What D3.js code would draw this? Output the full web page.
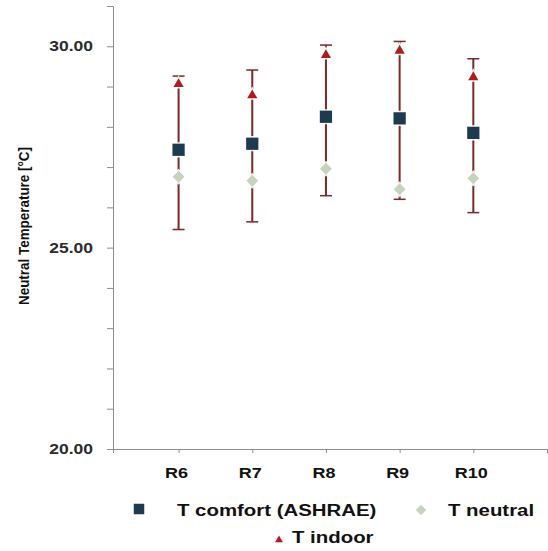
<!DOCTYPE html>
<html><head><meta charset="utf-8">
<script src="https://cdn.jsdelivr.net/npm/d3@7"></script>
<style>html,body{margin:0;padding:0;background:#fff;}svg{display:block;}</style>
</head><body>
<svg id="c" width="548" height="551"></svg>
<script>
const categories = ["R6","R7","R8","R9","R10"];
const tComfort = [27.43, 27.58, 28.25, 28.21, 27.85];
const tNeutral = [26.76, 26.66, 26.96, 26.45, 26.72];
const tIndoor  = [29.06, 28.78, 29.78, 29.89, 29.23];
const errHigh  = [29.26, 29.41, 30.03, 30.12, 29.69];
const errLow   = [25.45, 25.64, 26.29, 26.20, 25.87];
const yTickLabels = [20, 25, 30];
const legendNames = ["T comfort (ASHRAE)", "T neutral", "T indoor"];

const svg = d3.select("#c");
const x = d3.scaleLinear().domain([0.11, 6]).range([113, 547]);
const y = d3.scaleLinear().domain([20, 31]).range([449, 6]);
const axisColor = "#8c8c8c";
const pos = i => x(i + 1);

// Y axis
const yAxis = svg.append("g").attr("transform", "translate(113,0)")
  .call(d3.axisLeft(y).tickValues(d3.range(20, 32, 1)).tickSize(6).tickFormat(""));
yAxis.selectAll("path,line").attr("stroke", axisColor).attr("stroke-width", 1);
// X axis
const xAxis = svg.append("g").attr("transform", "translate(0,449)")
  .call(d3.axisBottom(x).tickValues([0.11, 1, 2, 3, 4, 5, 6]).tickSize(4).tickSizeOuter(0).tickFormat(""));
xAxis.selectAll("path,line").attr("stroke", axisColor).attr("stroke-width", 1);

// Y tick labels
svg.selectAll(".ylab").data(yTickLabels).enter().append("text")
  .attr("transform", d => `translate(93,${y(d) + 5}) scale(1.25,1)`)
  .attr("text-anchor", "end")
  .attr("font-family", "Liberation Sans, Arial, sans-serif").attr("font-weight", "bold")
  .attr("font-size", 14).attr("fill", "#2b2b2b")
  .text(d => d3.format(".2f")(d));

// X category labels
svg.selectAll(".xlab").data(categories).enter().append("text")
  .attr("transform", (d, i) => `translate(${pos(i) - 2},478) scale(1.2,1)`)
  .attr("text-anchor", "middle")
  .attr("font-family", "Liberation Sans, Arial, sans-serif").attr("font-weight", "bold")
  .attr("font-size", 15).attr("fill", "#111")
  .text(d => d);

// Y axis title
svg.append("text")
  .attr("transform", "translate(29,226) rotate(-90)")
  .attr("text-anchor", "middle")
  .attr("font-family", "Liberation Sans Narrow, Arial Narrow, Liberation Sans, sans-serif")
  .attr("font-weight", "bold").attr("font-size", 14).attr("fill", "#111")
  .attr("textLength", 158).attr("lengthAdjust", "spacingAndGlyphs")
  .text("Neutral Temperature [°C]");

// Error bars
const errColor = "#7a2828";
const eb = svg.append("g");
categories.forEach((c, i) => {
  const cx = pos(i);
  eb.append("line").attr("x1", cx).attr("x2", cx).attr("y1", y(errLow[i])).attr("y2", y(errHigh[i]))
    .attr("stroke", errColor).attr("stroke-width", 2);
  [errLow[i], errHigh[i]].forEach(v => {
    eb.append("line").attr("x1", cx - 6).attr("x2", cx + 6).attr("y1", y(v)).attr("y2", y(v))
      .attr("stroke", errColor).attr("stroke-width", 1.5);
  });
});

const sqColor = "#1d3a4e", diaColor = "#c8d3bb", triColor = "#b01c1e";
const squareSym = d3.symbol().type(d3.symbolSquare).size(150);
const diamondSym = d3.symbol().type(d3.symbolDiamond2).size(90);
const triSym = d3.symbol().type(d3.symbolTriangle2).size(75);

function markers(data, sym, color) {
  svg.append("g").selectAll("path").data(data).enter().append("path")
    .attr("d", sym)
    .attr("transform", (d, i) => `translate(${pos(i)},${y(d)})`)
    .attr("fill", color).attr("stroke", "#fff").attr("stroke-opacity", 0.9).attr("stroke-width", 3)
    .style("paint-order", "stroke");
}
markers(tNeutral, diamondSym, diaColor);
markers(tComfort, squareSym, sqColor);
markers(tIndoor, triSym, triColor);

// Legend
const leg = svg.append("g");
const legFont = "Liberation Sans, Arial, sans-serif";
function legText(tx, ty, txt) {
  leg.append("text").attr("transform", `translate(${tx},${ty}) scale(1.2,1)`)
    .attr("font-family", legFont).attr("font-weight", "bold").attr("font-size", 17)
    .attr("fill", "#111").text(txt);
}
leg.append("path").attr("d", d3.symbol().type(d3.symbolSquare).size(110)).attr("transform", "translate(139,509)").attr("fill", sqColor);
legText(177, 516, legendNames[0]);
leg.append("path").attr("d", d3.symbol().type(d3.symbolDiamond2).size(70)).attr("transform", "translate(421,510)").attr("fill", diaColor);
legText(448, 516, legendNames[1]);
leg.append("path").attr("d", d3.symbol().type(d3.symbolTriangle2).size(45)).attr("transform", "translate(279,540)").attr("fill", triColor);
legText(292, 543, legendNames[2]);
</script>
</body></html>
